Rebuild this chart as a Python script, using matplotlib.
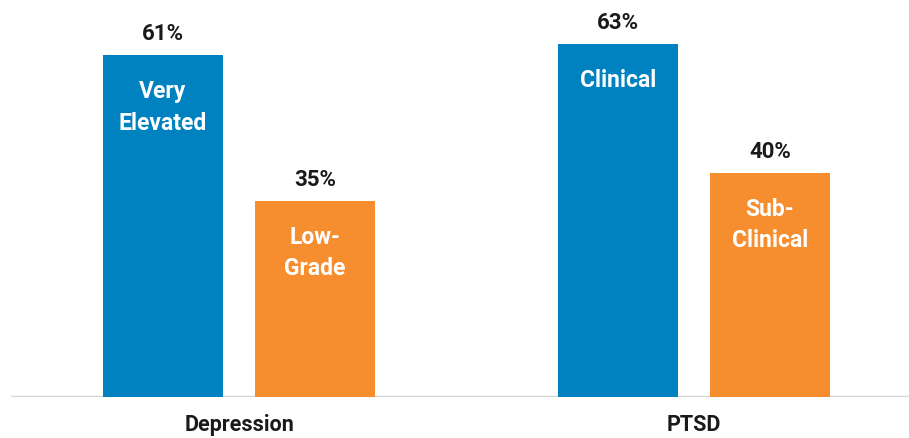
import matplotlib
matplotlib.use("Agg")
from matplotlib import pyplot as plt
import numpy as np

groups = ["Depression", "PTSD"]
high_vals = [61, 63]
low_vals = [35, 40]
high_labels = ["Very\nElevated", "Clinical"]
low_labels = ["Low-\nGrade", "Sub-\nClinical"]

blue = "#0082c0"
orange = "#f68d2e"

plt.rcParams['font.family'] = ['Liberation Sans Narrow', 'Roboto', 'DejaVu Sans']

fig = plt.figure(figsize=(9.09, 4.38), dpi=100)
ax = fig.add_axes([0, 41 / 438, 1, 397 / 438])

x = np.arange(len(groups))
w = 0.264
off = 0.167

b1 = ax.bar(x - off, high_vals, w, color=blue, zorder=3)
b2 = ax.bar(x + off, low_vals, w, color=orange, zorder=3)

ax.set_xlim(-239 / 455, 670 / 455)
ax.set_ylim(0, 397 / 5.6)

ax.axhline(0, xmin=12 / 909, xmax=1, color="#d6d6d6", lw=2.5, zorder=2)

for bars, vals, labs in [(b1, high_vals, high_labels), (b2, low_vals, low_labels)]:
    for r, v, lab in zip(bars, vals, labs):
        cx = r.get_x() + r.get_width() / 2
        ax.annotate(f"{v}%", (cx, v), xytext=(0, 10), textcoords="offset pixels",
                    ha="center", va="bottom", fontsize=16, fontweight="bold", color="#1a1a1a")
        ax.annotate(lab, (cx, v), xytext=(0, -25), textcoords="offset pixels",
                    ha="center", va="top", fontsize=16.5, fontweight="bold", color="white",
                    linespacing=1.45)

for i, g in enumerate(groups):
    ax.annotate(g, (i, 0), xytext=(0, -17), textcoords="offset pixels",
                ha="center", va="top", fontsize=15.5, fontweight="bold", color="#1a1a1a",
                annotation_clip=False)

ax.axis("off")

plt.savefig("out.png", dpi=100)
